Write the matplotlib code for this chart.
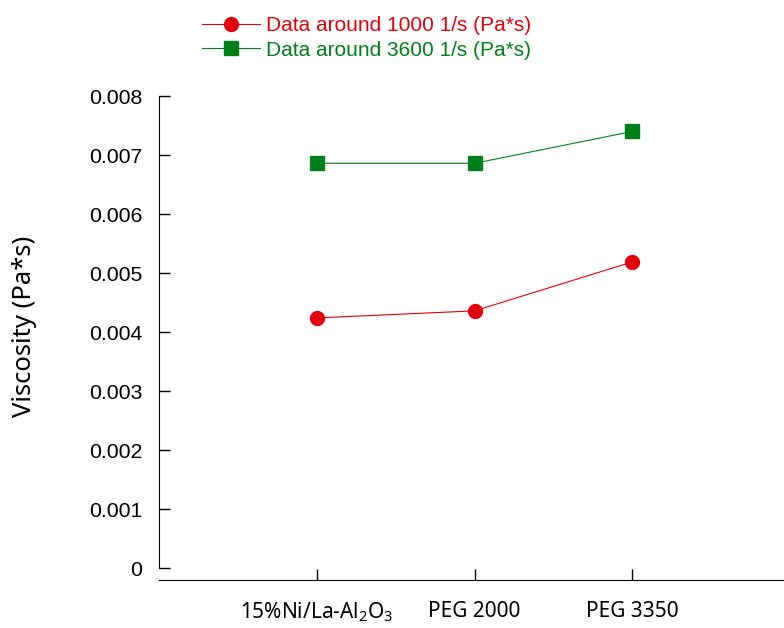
import matplotlib
matplotlib.use('Agg')
import matplotlib.pyplot as plt

categories = ['15%Ni/La-Al$_2$O$_3$', 'PEG 2000', 'PEG 3350']
visc_1000 = [0.00424, 0.00436, 0.00519]
visc_3600 = [0.00686, 0.00686, 0.00740]
yticks = [0, 0.001, 0.002, 0.003, 0.004, 0.005, 0.006, 0.007, 0.008]
ytick_labels = ['0', '0.001', '0.002', '0.003', '0.004', '0.005', '0.006', '0.007', '0.008']

plt.rcParams['font.family'] = ['Liberation Sans', 'DejaVu Sans']
plt.rcParams['mathtext.fontset'] = 'custom'
plt.rcParams['mathtext.rm'] = 'Noto Sans'
plt.rcParams['mathtext.it'] = 'Noto Sans:italic'

red = '#e0000e'
green = '#00801a'

fig = plt.figure(figsize=(7.84, 6.28), dpi=100)
ax = fig.add_axes([159/784, 1 - 580/628, 1 - 159/784, (580 - 96)/628])

x = [1, 2, 3]
l1, = ax.plot(x, visc_1000, color=red, lw=0.8, marker='o', markersize=10,
              label='Data around 1000 1/s (Pa*s)')
l2, = ax.plot(x, visc_3600, color=green, lw=0.8, marker='s', markersize=10,
              label='Data around 3600 1/s (Pa*s)')

ax.set_xlim(0, 3.96)
ax.set_ylim(-0.0002, 0.008)
ax.set_xticks(x)
ax.set_xticklabels(categories, family='Noto Sans', fontsize=15)
ax.set_yticks(yticks)
ax.set_yticklabels(ytick_labels, fontsize=15.3)
ax.tick_params(axis='both', direction='in', length=8, width=1)
ax.tick_params(axis='x', pad=15)
ax.tick_params(axis='y', pad=12)

ax.spines['top'].set_visible(False)
ax.spines['right'].set_visible(False)
ax.spines['left'].set_bounds(0, 0.008)
ax.set_ylabel('Viscosity (Pa*s)', family='Noto Sans', fontsize=18.5)
ax.yaxis.set_label_coords(-0.195, 0.523)

leg = fig.legend(handles=[l1, l2], loc='upper left', bbox_to_anchor=(194/784, 1 - 8/628),
                 frameon=False, fontsize=15, handlelength=2.75, handletextpad=0.3,
                 labelspacing=0.25, borderaxespad=0)
for txt, c in zip(leg.get_texts(), [red, green]):
    txt.set_color(c)

plt.savefig('out.png', dpi=100)
